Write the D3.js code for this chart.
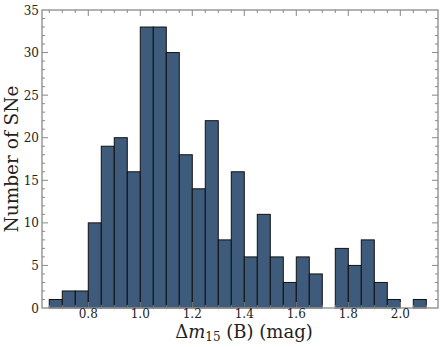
<!DOCTYPE html>
<html>
<head>
<meta charset="utf-8">
<script src="https://cdn.jsdelivr.net/npm/d3@7"></script>
<style>
  body { margin: 0; background: #fff; }
  text { font-family: "DejaVu Serif", serif; fill: #222; }
</style>
</head>
<body>
<div class="chart"></div>
<script>
// histogram of decline rates, bins of 0.05 mag
const binStarts = [0.65, 0.70, 0.75, 0.80, 0.85, 0.90, 0.95, 1.00, 1.05, 1.10,
                   1.15, 1.20, 1.25, 1.30, 1.35, 1.40, 1.45, 1.50, 1.55, 1.60,
                   1.65, 1.70, 1.75, 1.80, 1.85, 1.90, 1.95, 2.00, 2.05];
const counts = [1, 2, 2, 10, 19, 20, 16, 33, 33, 30,
                18, 14, 22, 8, 16, 6, 11, 6, 3, 6,
                4, 0, 7, 5, 8, 3, 1, 0, 1];
const binWidth = 0.05;
const xTicks = [0.8, 1.0, 1.2, 1.4, 1.6, 1.8, 2.0];
const yTicks = [0, 5, 10, 15, 20, 25, 30, 35];

const width = 443, height = 347;
const margin = {top: 10, right: 5, bottom: 39, left: 42};

const svg = d3.select(".chart").append("svg")
    .attr("width", width)
    .attr("height", height);

const x = d3.scaleLinear().domain([0.622, 2.145]).range([margin.left, width - margin.right]);
const y = d3.scaleLinear().domain([0, 35]).range([height - margin.bottom, margin.top]);

const bins = binStarts.map((s, i) => ({x0: s, x1: s + binWidth, n: counts[i]}));

svg.selectAll("rect.bar")
    .data(bins.filter(d => d.n > 0))
    .enter()
    .append("rect")
    .attr("class", "bar")
    .attr("x", d => x(d.x0))
    .attr("y", d => y(d.n))
    .attr("width", d => x(d.x1) - x(d.x0))
    .attr("height", d => y(0) - y(d.n))
    .attr("fill", "#3f5b7b")
    .attr("stroke", "#111")
    .attr("stroke-width", 1);

// frame
const x0 = margin.left, x1 = width - margin.right;
const y0 = height - margin.bottom, y1 = margin.top;
svg.append("rect")
    .attr("x", x0).attr("y", y1)
    .attr("width", x1 - x0).attr("height", y0 - y1)
    .attr("fill", "none")
    .attr("stroke", "#999")
    .attr("stroke-width", 1.5);

// ticks pointing inward
const tickColor = "#888";
const xMinor = d3.range(0.65, 2.15, 0.05).filter(v => !xTicks.some(t => Math.abs(t - v) < 1e-6));
const yMinor = d3.range(0, 36, 1).filter(v => v % 5 !== 0);

function vTicks(vals, len) {
    vals.forEach(v => {
        [[y0, -len], [y1, len]].forEach(([yy, d]) => {
            svg.append("line")
                .attr("x1", x(v)).attr("x2", x(v))
                .attr("y1", yy).attr("y2", yy + d)
                .attr("stroke", tickColor).attr("stroke-width", 1);
        });
    });
}
function hTicks(vals, len) {
    vals.forEach(v => {
        [[x0, len], [x1, -len]].forEach(([xx, d]) => {
            svg.append("line")
                .attr("x1", xx).attr("x2", xx + d)
                .attr("y1", y(v)).attr("y2", y(v))
                .attr("stroke", tickColor).attr("stroke-width", 1);
        });
    });
}
vTicks(xTicks, 6);
vTicks(xMinor, 3);
hTicks(yTicks.slice(1, -1), 6);
hTicks(yMinor, 3);

// tick labels
svg.selectAll("text.xt")
    .data(xTicks)
    .enter()
    .append("text")
    .attr("x", d => x(d))
    .attr("y", 318)
    .attr("text-anchor", "middle")
    .attr("font-size", 12)
    .text(d => d.toFixed(1));

svg.selectAll("text.yt")
    .data(yTicks)
    .enter()
    .append("text")
    .attr("x", x0 - 3)
    .attr("y", d => y(d) + 4.5)
    .attr("text-anchor", "end")
    .attr("font-size", 12)
    .text(d => d);

// axis labels
const xl = svg.append("text")
    .attr("x", (x0 + x1) / 2 + 4)
    .attr("y", 338)
    .attr("text-anchor", "middle")
    .attr("font-size", 18);
xl.append("tspan").text("Δ");
xl.append("tspan").attr("font-style", "italic").text("m");
xl.append("tspan").attr("font-size", 12).attr("dy", 3).text("15");
xl.append("tspan").attr("dy", -3).text(" (B) (mag)");

svg.append("text")
    .attr("transform", `translate(18,${(y0 + y1) / 2}) rotate(-90)`)
    .attr("text-anchor", "middle")
    .attr("font-size", 18.5)
    .text("Number of SNe");
</script>
</body>
</html>
